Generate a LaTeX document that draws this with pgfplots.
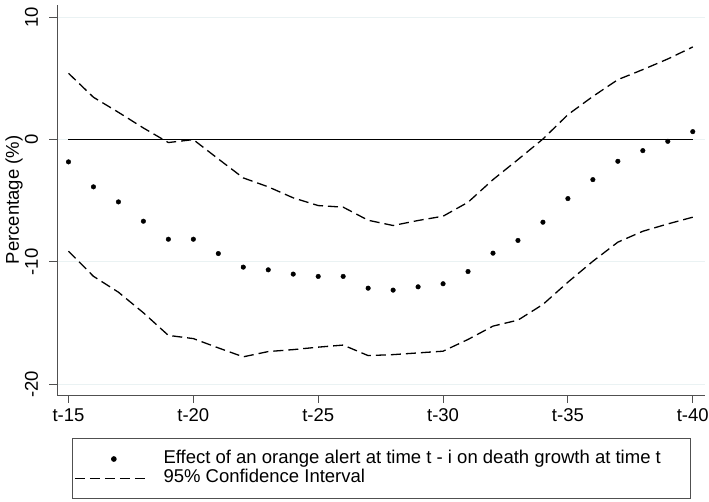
\documentclass[border=0pt]{standalone}
\usepackage{fontspec}
\setmainfont{Liberation Sans}
\usepackage{pgfplots}
\pgfplotsset{compat=1.18}
\definecolor{gridc}{RGB}{234,242,243}
\definecolor{axisc}{RGB}{80,80,80}
\newcommand\chartfont{\fontsize{18.5}{22}\selectfont}

% point estimates
\pgfplotstableread{
i   b
15  -1.82
16  -3.86
17  -5.09
18  -6.67
19  -8.14
20  -8.14
21  -9.31
22  -10.42
23  -10.64
24  -10.99
25  -11.18
26  -11.18
27  -12.14
28  -12.30
29  -12.03
30  -11.78
31  -10.78
32  -9.28
33  -8.24
34  -6.75
35  -4.82
36  -3.27
37  -1.77
38  -0.90
39  -0.14
40  0.65
}\estimates

% 95% confidence bounds
\pgfplotstableread{
i   lo      hi
15  -9.12   5.42
16  -11.17  3.46
17  -12.47  2.23
18  -14.15  0.95
19  -16.00  -0.24
20  -16.26  0.00
21  -17.02  -1.58
22  -17.75  -3.13
23  -17.32  -3.86
24  -17.16  -4.76
25  -16.96  -5.39
26  -16.79  -5.52
27  -17.65  -6.59
28  -17.57  -7.02
29  -17.43  -6.61
30  -17.29  -6.26
31  -16.33  -5.12
32  -15.24  -3.27
33  -14.75  -1.63
34  -13.47  0.05
35  -11.65  2.04
36  -9.94   3.53
37  -8.38   4.90
38  -7.49   5.72
39  -6.89   6.59
40  -6.34   7.57
}\bounds

\begin{document}
\begin{tikzpicture}
\path[use as bounding box] (0pt,0pt) rectangle (709pt,501pt);
\begin{axis}[
  at={(57pt,106pt)}, anchor=south west,
  scale only axis, width=648pt, height=390pt,
  xmin=14.54, xmax=40.49, ymin=-20.87, ymax=11.0,
  axis x line*=bottom, axis y line*=left,
  axis line style={axisc, line width=1pt, -},
  tick style={axisc, line width=1pt},
  tick align=outside, major tick length=7.5pt,
  xtick={15,20,25,30,35,40},
  xticklabels={t-15,t-20,t-25,t-30,t-35,t-40},
  ytick={-20,-10,0,10},
  ymajorgrids, grid style={gridc, line width=1pt},
  /pgf/number format/assume math mode=true,
  every tick label/.append style={font=\chartfont},
  xticklabel style={yshift=-3pt},
  yticklabel style={xshift=-8pt, rotate=90, anchor=south},
  ylabel={Percentage (\%)},
  ylabel style={font=\chartfont, at={(axis description cs:-0.0664,0.5)}, anchor=center},
  legend style={at={(0.0227,-0.1103)}, anchor=north west, draw=axisc, line width=1pt,
    inner xsep=2pt, inner ysep=12pt, row sep=2.2pt,
    nodes={inner sep=0pt, text height=13pt, text depth=4pt},
    font=\chartfont},
  legend cell align=left,
  clip=false,
]
\addplot[black, line width=1.5pt, forget plot] coordinates {(15,0) (40,0)};
\addplot[only marks, mark=*, mark size=2.3pt, black,
  legend image code/.code={\path (0pt,0pt) (74pt,0pt); \fill[black] (39pt,0pt) circle (2.3pt);}]
  table[x=i, y=b] {\estimates};
\addlegendentry{\makebox[539pt][l]{\hspace*{14pt}Effect of an orange alert at time t - i on death growth at time t}}
\addplot[black, line width=1.3pt, dash pattern=on 10pt off 5pt,
  legend image code/.code={\draw[black, line width=1.3pt, dash pattern=on 10pt off 5pt] (0pt,0pt) -- (74pt,0pt);}]
  table[x=i, y=hi] {\bounds};
\addlegendentry{\hspace*{14pt}95\% Confidence Interval}
\addplot[black, line width=1.3pt, dash pattern=on 10pt off 5pt, forget plot]
  table[x=i, y=lo] {\bounds};
\end{axis}
\end{tikzpicture}
\end{document}
